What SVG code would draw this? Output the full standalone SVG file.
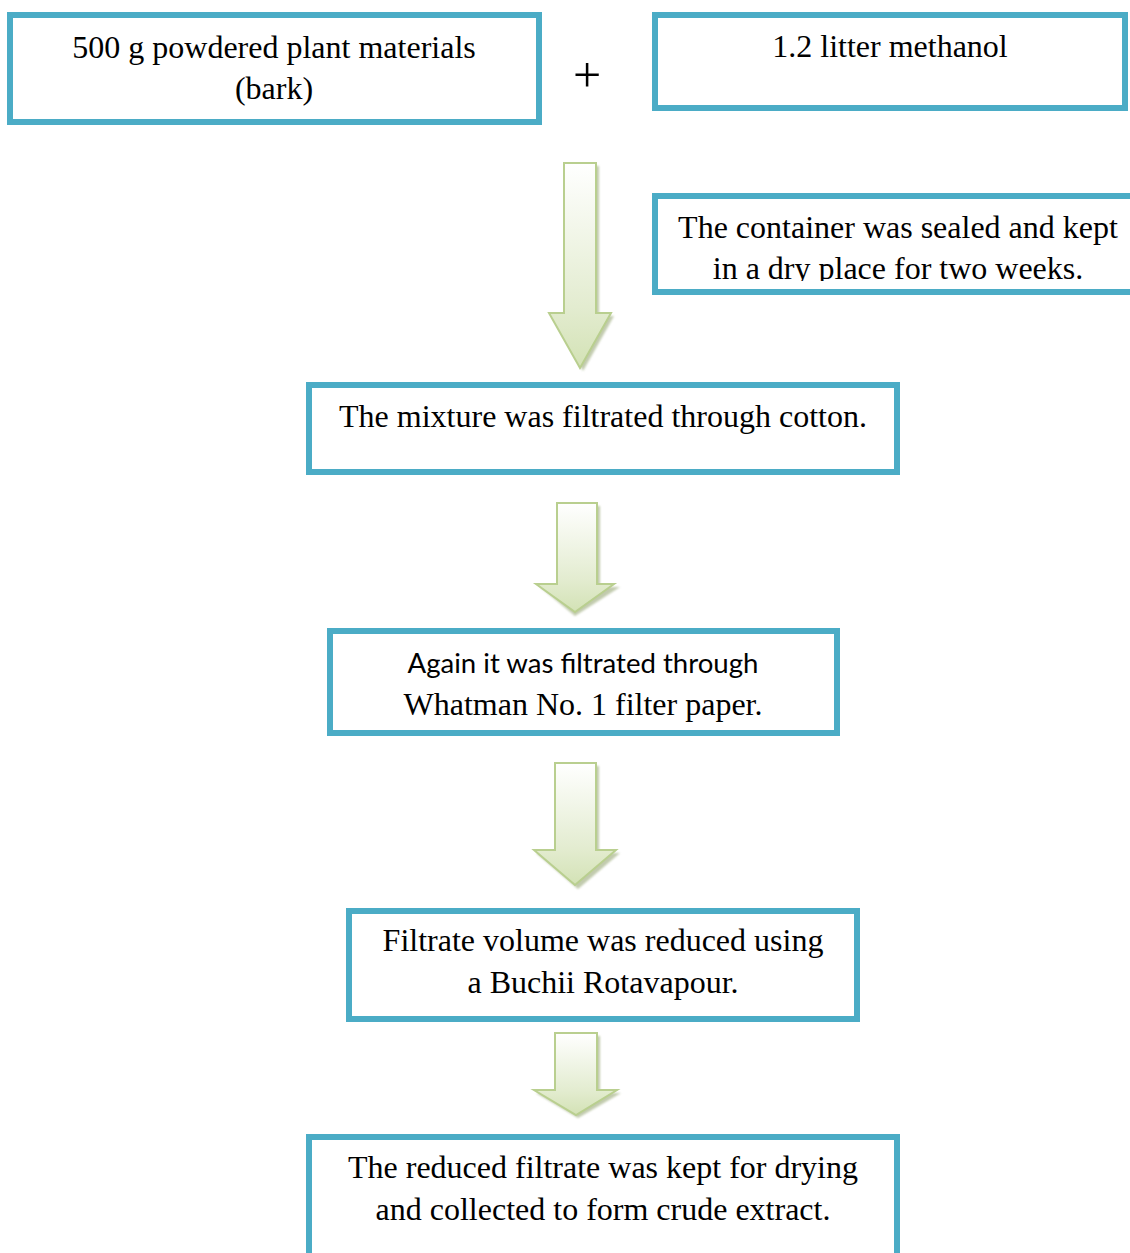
<svg xmlns="http://www.w3.org/2000/svg" width="1130" height="1253" viewBox="0 0 1130 1253">
<defs>
<style>
.box{fill:#fff;stroke:#4BACC6;stroke-width:6}
.t{font-family:"Liberation Serif","Times New Roman",serif;font-size:32px;fill:#000;text-anchor:middle}
.s{font-family:Lato,"Open Sans",sans-serif;font-size:27px;fill:#000;text-anchor:middle}
.arr{stroke:#B9CF8F;stroke-width:2;stroke-linejoin:miter}
.sh{fill:#8FA06A;opacity:0.55}
</style>
<linearGradient id="g1" x1="0" y1="0" x2="0" y2="1">
<stop offset="0" stop-color="#FFFFFF"/>
<stop offset="0.7" stop-color="#E3ECD0"/>
<stop offset="1" stop-color="#D3E2B5"/>
</linearGradient>
<filter id="blur" x="-10%" y="-10%" width="120%" height="120%"><feGaussianBlur stdDeviation="1"/></filter>
<clipPath id="c3"><rect x="658" y="199" width="472" height="82"/></clipPath>
</defs>

<g id="connectors">
<g id="arrow1">
<path class="sh" filter="url(#blur)" d="M567,166 H599 V316 H614 L583,371 L552,316 H567 Z"/>
<path class="arr" fill="url(#g1)" d="M564,163 H596 V313 H611 L580,368 L549,313 H564 Z"/>
</g>
<g id="arrow2">
<path class="sh" filter="url(#blur)" d="M560,506 H600 V587 H620 L575,616 L540,587 H560 Z"/>
<path class="arr" fill="url(#g1)" d="M557,503 H597 V584 H614 L575,612 L536,584 H557 Z"/>
</g>
<g id="arrow3">
<path class="sh" filter="url(#blur)" d="M558,766 H599 V853 H620 L578,889 L536,853 H558 Z"/>
<path class="arr" fill="url(#g1)" d="M555,763 H596 V850 H616 L575,885 L534,850 H555 Z"/>
</g>
<g id="arrow4">
<path class="sh" filter="url(#blur)" d="M558,1036 H600 V1093 H621 L578,1118 L536,1093 H558 Z"/>
<path class="arr" fill="url(#g1)" d="M555,1033 H597 V1090 H617 L576,1115 L534,1090 H555 Z"/>
</g>
</g>

<g id="node1">
<rect class="box" x="10" y="15" width="529" height="107"/>
<text class="t" x="274" y="58">500 g powdered plant materials</text>
<text class="t" x="274" y="99">(bark)</text>
</g>

<g id="plus">
<text x="587" y="92" style="font-family:'Liberation Serif',serif;font-size:50px;text-anchor:middle">+</text>
</g>

<g id="node2">
<rect class="box" x="655" y="15" width="470" height="93"/>
<text class="t" x="890" y="57">1.2 litter methanol</text>
</g>

<g id="node3">
<rect class="box" x="655" y="196" width="490" height="96"/>
<g clip-path="url(#c3)">
<text class="t" x="898" y="238">The container was sealed and kept</text>
<text class="t" x="898" y="279">in a dry place for two weeks.</text>
</g>
</g>

<g id="node4">
<rect class="box" x="309" y="385" width="588" height="87"/>
<text class="t" x="603" y="427">The mixture was filtrated through cotton.</text>
</g>

<g id="node5">
<rect class="box" x="330" y="631" width="507" height="102"/>
<text class="s" x="583" y="673" textLength="351" lengthAdjust="spacingAndGlyphs">Again it was filtrated through</text>
<text class="t" x="583" y="715">Whatman No. 1 filter paper.</text>
</g>

<g id="node6">
<rect class="box" x="349" y="911" width="508" height="108"/>
<text class="t" x="603" y="951">Filtrate volume was reduced using</text>
<text class="t" x="603" y="993">a Buchii Rotavapour.</text>
</g>

<g id="node7">
<rect class="box" x="309" y="1137" width="588" height="140"/>
<text class="t" x="603" y="1178">The reduced filtrate was kept for drying</text>
<text class="t" x="603" y="1220">and collected to form crude extract.</text>
</g>
</svg>
